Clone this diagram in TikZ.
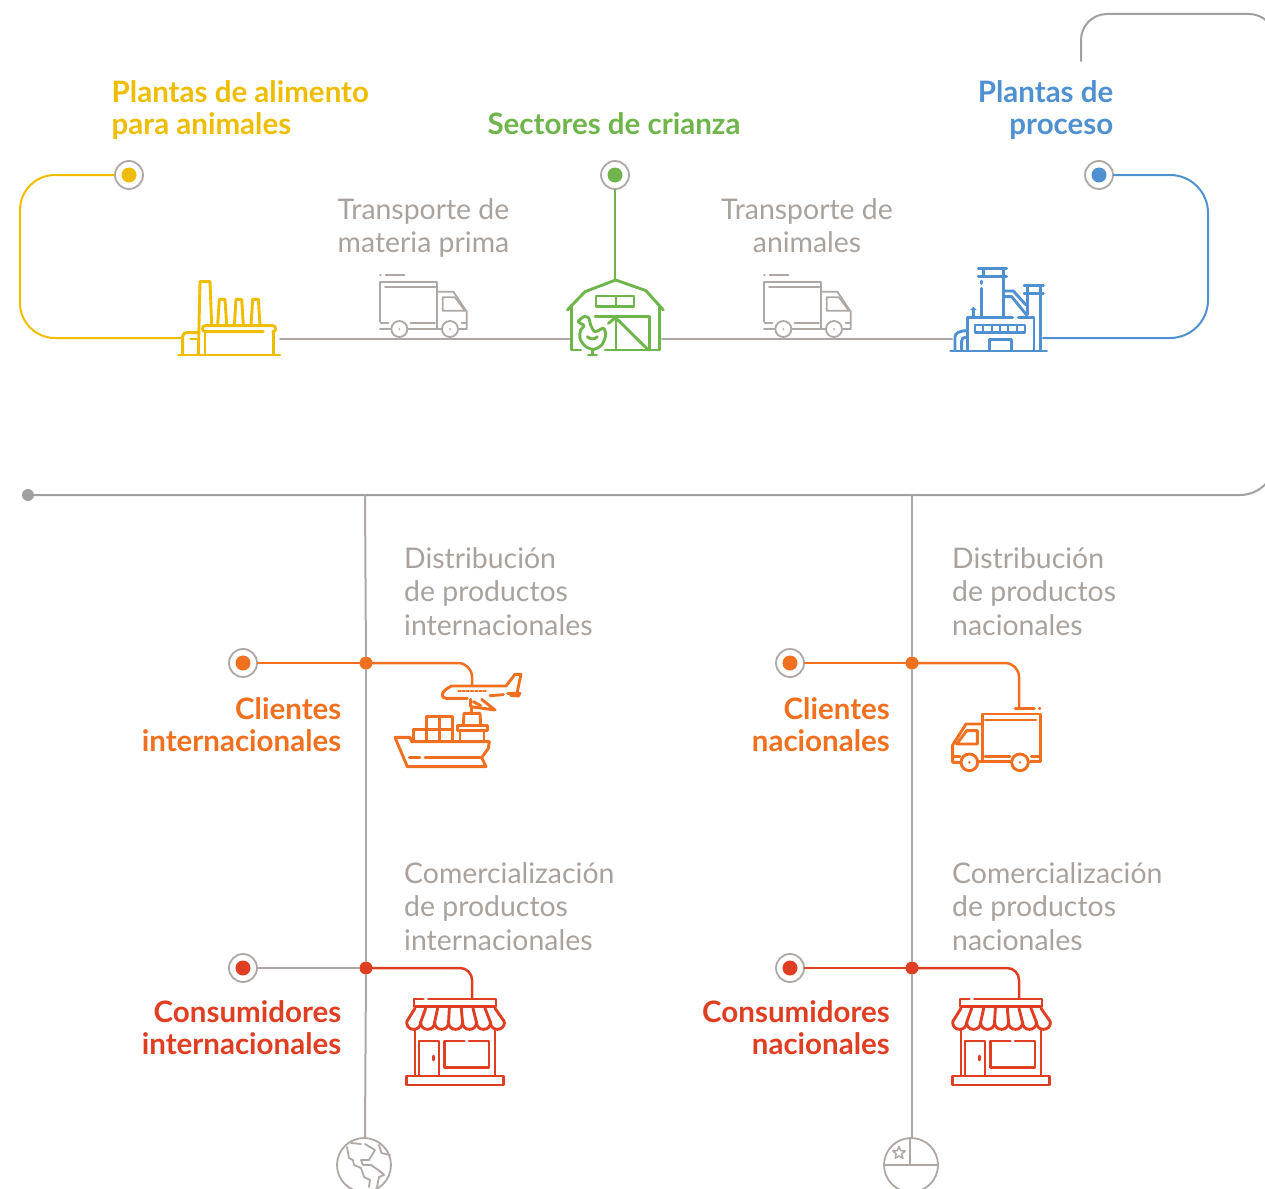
\documentclass[tikz,border=0pt]{standalone}
\usepackage{fontspec}
\setmainfont{Lato}
\usetikzlibrary{calc,positioning,shapes.geometric}
\definecolor{clrfeed}{HTML}{EFBD00}
\definecolor{clrfarm}{HTML}{6FB54B}
\definecolor{clrplant}{HTML}{4F90D1}
\definecolor{clrclient}{HTML}{F0701F}
\definecolor{clrshop}{HTML}{E03E22}
\definecolor{clrline}{HTML}{AFA7A3}
\definecolor{clrtext}{HTML}{A9A29C}
\definecolor{clrbus}{HTML}{A0A0A0}
\tikzset{
    ring/.style={circle, draw=clrline, fill=white, line width=1.8pt, minimum size=28pt, inner sep=0pt},
    junct/.style={circle, inner sep=0pt, minimum size=13pt},
    head/.style={inner sep=0pt, font=\fontsize{29.5}{32}\selectfont\bfseries},
    sub/.style={inner sep=0pt, text=clrtext, font=\fontsize{28.4}{33.5}\selectfont},
    link/.style={line width=2pt, line cap=round, line join=round},
    heavy link/.style={line width=2.5pt, line cap=round, line join=round},
    icon/.style={line width=2.9pt, line cap=round, line join=round},
    thin icon/.style={line width=1.8pt, line cap=round, line join=round}
}
\begin{document}
\begin{tikzpicture}[x=1pt, y=-1pt]

        \clip (0,0) rectangle (1265,1188);

        % rings
        \foreach \n/\x/\y/\c in {feed/129/175/clrfeed, farm/615/175/clrfarm, plant/1099/175/clrplant, cliint/243/663/clrclient, clinat/790/663/clrclient, conint/243/968/clrshop, connat/790/968/clrshop} {
            \node[ring] (\n) at (\x,\y) {};
            \fill[\c] (\n) circle (7.5pt);
        }

        % junctions on the two trunks
        \foreach \n/\x/\y/\c in {jcliint/366/663/clrclient, jclinat/912/663/clrclient, jconint/366/968/clrshop, jconnat/912/968/clrshop} {
            \node[junct, fill=\c] (\n) at (\x,\y) {};
        }

        \node[junct, fill=clrbus, minimum size=12pt] (busend) at (28,495) {};

        \coordinate (feedicon) at (180,338);
        \coordinate (feedout) at (280,339);
        \coordinate (feedcorner) at (20,338);
        \coordinate (farmin) at (570,339);
        \coordinate (farmout) at (662,339);
        \coordinate (farmtop) at (615,279);
        \coordinate (plantin) at (952,339);
        \coordinate (plantout) at (1043,338);
        \coordinate (plantcorner) at (1208,338);
        \coordinate (busstart) at (1081,61);
        \coordinate (busa) at (1081,14);
        \coordinate (busb) at (1275,14);
        \coordinate (busc) at (1275,495);
        \coordinate (trunkint) at (365,495);
        \coordinate (trunknat) at (912,495);
        \coordinate (globetop) at (365,1138);
        \coordinate (flagtop) at (912,1138);
        \coordinate (planein) at (472,686);
        \coordinate (vanin) at (1019,708);
        \coordinate (shopint) at (472,998);
        \coordinate (shopnat) at (1019,998);

        % connectors
        \draw[link, clrfeed, rounded corners=35pt] (feed.west) -| (feedcorner) -- (feedicon);
        \draw[link, clrfarm] (farm.south) -- (farmtop);
        \draw[link, clrplant, rounded corners=38pt] (plant.east) -| (plantcorner) -- (plantout);
        \draw[link, clrline] (feedout) -- (farmin);
        \draw[link, clrline] (farmout) -- (plantin);
        \draw[link, clrbus, rounded corners=26pt] (busstart) -- (busa) -- (busb) -- (1275,60);
        \draw[link, clrbus, rounded corners=35pt] (busend.east) -- (busc) -- (1275,440);
        \draw[link, clrline] (trunkint) -- (jcliint);
        \draw[link, clrline] (jcliint) -- (jconint);
        \draw[link, clrline] (jconint) -- (globetop);
        \draw[link, clrline] (trunknat) -- (jclinat);
        \draw[link, clrline] (jclinat) -- (jconnat);
        \draw[link, clrline] (jconnat) -- (flagtop);
        \draw[heavy link, clrclient] (cliint.east) -- (jcliint);
        \draw[heavy link, clrclient] (clinat.east) -- (jclinat);
        \draw[link, clrline] (conint.east) -- (jconint);
        \draw[heavy link, clrshop] (connat.east) -- (jconnat);
        \draw[heavy link, clrclient, rounded corners=14pt] (jcliint) -| (planein);
        \draw[heavy link, clrclient, rounded corners=14pt] (jclinat) -| (vanin);
        \draw[heavy link, clrshop, rounded corners=12pt] (jconint) -| (shopint);
        \draw[heavy link, clrshop, rounded corners=12pt] (jconnat) -| (shopnat);

        % labels
        \node[head, text=clrfeed, anchor=north west, align=left] (lfeed) at (111.5,80) {Plantas de alimento\\para animales};
        \node[head, text=clrfarm, anchor=north] (lfarm) at (614,112) {Sectores de crianza};
        \node[head, text=clrplant, anchor=north east, align=right] (lplant) at (1113.5,80) {Plantas de\\proceso};
        \node[sub, anchor=north west, align=left] (lraw) at (337.5,198) {Transporte de\\materia prima};
        \node[sub, anchor=north, align=center] (lanim) at (807,198) {Transporte de\\animales};
        \foreach \n/\x/\y/\t in {ldisint/404/547/internacionales, ldisnat/952/547/nacionales} {
            \node[sub, anchor=north west, align=left] (\n) at (\x,\y) {Distribución\\de productos\\\t};
        }
        \foreach \n/\x/\y/\t in {lcomint/404/862/internacionales, lcomnat/952/862/nacionales} {
            \node[sub, anchor=north west, align=left] (\n) at (\x,\y) {Comercialización\\de productos\\\t};
        }
        \node[head, text=clrclient, anchor=north east, align=right] (lcliint) at (341.5,697) {Clientes\\internacionales};
        \node[head, text=clrclient, anchor=north east, align=right] (lclinat) at (890,697) {Clientes\\nacionales};
        \node[head, text=clrshop, anchor=north east, align=right] (lconint) at (341.5,1000) {Consumidores\\internacionales};
        \node[head, text=clrshop, anchor=north east, align=right] (lconnat) at (890,1000) {Consumidores\\nacionales};

        % feed mill
        \begin{scope}[shift={(170,260)}, scale=1/3, icon, clrfeed]
            \draw (85,285) -- (90,65) -- (120,65) -- (125,195);
            \foreach \a in {0,50,100} {
                \draw[shift={(\a,0)}] (143,195) -- (148,118) -- (165,118) -- (170,195);
            }
            \draw[fill=white] (280,215) -- (106,215) .. controls (94,215) and (94,197) .. (106,197) -- (308,197) .. controls (320,197) and (320,215) .. (308,215);
            \draw (105,215) -- (105,285);
            \draw (310,215) -- (310,285);
            \draw (25,285) -- (330,285);
            \draw (38,285) -- (38,230) .. controls (38,222) and (42,218) .. (50,218) -- (85,218);
            \draw (62,237) -- (80,237);
            \draw[line width=2pt] (0,233) -- (32,233);
        \end{scope}

        % barn
        \begin{scope}[shift={(560,260)}, scale=1/3, icon, clrfarm]
            \draw (22,150) -- (75,95) -- (167,60) -- (258,92) -- (310,150);
            \draw (35,135) -- (35,270) -- (62,270);
            \draw (298,135) -- (298,270) -- (135,270);
            \draw (108,108) rectangle (222,140);
            \draw (168,108) -- (168,140);
            \draw (105,170) -- (268,170) -- (268,270);
            \draw (168,170) -- (168,270);
            \draw (172,178) -- (265,270);
            \draw (145,190) -- (168,172);
            \draw[fill=white] plot[smooth cycle, tension=0.5] coordinates {(55,185) (72,170) (86,174) (92,195) (105,215) (130,205) (137,225) (125,255) (100,268) (75,258) (60,235) (62,210) (72,197)};
            \draw (82,230) .. controls (92,240) and (105,238) .. (112,230);
            \draw (97,268) -- (97,285);
            \draw (85,285) -- (110,285);
        \end{scope}

        % processing plant
        \begin{scope}[shift={(940,255)}, scale=1/3, icon, clrplant]
            \draw (115,40) -- (200,40);
            \draw (115,65) -- (200,65);
            \draw (130,40) -- (130,65);
            \draw (190,40) -- (190,185);
            \draw (125,78) -- (125,85);
            \draw (125,100) -- (125,185);
            \draw (252,92) -- (310,92);
            \draw (252,115) -- (310,115);
            \draw (262,92) -- (262,178);
            \draw (302,92) -- (302,285);
            \draw (195,108) -- (220,108) -- (258,150);
            \draw (195,125) -- (215,125) -- (260,180);
            \draw (82,285) -- (82,188) -- (218,188);
            \draw (235,188) -- (282,188) -- (282,285);
            \draw (100,185) -- (100,165);
            \fill (90,165) -- (100,155) -- (110,165) -- cycle;
            \draw (105,210) rectangle (255,232);
            \foreach \a in {130,155,180,205,230} {
                \draw[line width=2.2pt] (\a,210) -- (\a,232);
            }
            \draw (148,285) -- (148,253) -- (215,253) -- (215,285);
            \draw (32,288) -- (320,288);
            \draw (45,285) -- (45,245) .. controls (45,235) and (60,227) .. (78,227);
            \draw (65,285) -- (65,258) .. controls (65,250) and (70,247) .. (78,247);
            \draw[line width=2pt] (310,248) -- (340,248);
        \end{scope}

        % vans on the upper line
        \foreach \a in {0,384} {
            \begin{scope}[shift={(170+\a,260)}, scale=1/3, thin icon, clrline]
                \draw (630,45) -- (632,45);
                \draw (647,45) -- (703,45);
                \draw (630,185) -- (630,65) -- (800,65) -- (800,207);
                \draw (645,80) -- (800,80);
                \draw (632,188) -- (655,188);
                \draw (722,188) -- (795,188);
                \draw (630,207) -- (662,207);
                \draw (714,207) -- (815,207);
                \draw (805,95) -- (850,95) -- (890,155) -- (890,207) -- (866,207);
                \draw (875,188) -- (888,188);
                \draw (818,112) -- (855,112) -- (885,152) -- (818,152) -- cycle;
                \foreach \w in {688,840} {
                    \draw[fill=white] (\w,207) circle (24pt);
                    \fill (\w,207) circle (3pt);
                }
            \end{scope}
        }

        % plane and ship
        \begin{scope}[shift={(380,660)}, scale=1/3, icon, clrclient]
            \draw (262,115) -- (198,115) .. controls (180,115) and (182,92) .. (215,78) -- (378,78) -- (405,43) -- (423,43) -- (412,95);
            \draw[dotted, line width=2.2pt] (235,93) -- (320,93);
            \draw (330,107) -- (370,104);
            \draw (383,100) -- (420,100) -- (415,108) -- (392,106);
            \draw (272,118) -- (272,140) -- (345,150) -- (305,118);
            \draw (280,125) -- (302,137);
            \draw (275,142) -- (275,160);
            \draw (250,195) -- (252,160) -- (300,160) -- (302,195);
            \draw (232,197) rectangle (322,212);
            \draw (240,212) -- (240,245);
            \draw (312,212) -- (312,245);
            \draw (140,208) -- (140,170) -- (218,170) -- (218,245);
            \draw (178,170) -- (178,245);
            \draw (140,208) -- (140,245);
            \draw (100,245) -- (100,208) -- (218,208);
            \draw (45,232) -- (90,232) -- (95,245) -- (328,245) -- (325,265) -- (305,293) -- (318,320) -- (82,320) -- cycle;
            \draw (88,293) -- (120,293);
            \draw (135,293) -- (305,293);
        \end{scope}

        % delivery truck
        \begin{scope}[shift={(940,680)}, scale=1/3, icon, clrclient]
            \draw (225,85) -- (283,85);
            \draw (298,85) -- (300,85);
            \draw (127,245) -- (127,102) -- (302,102) -- (302,245) -- (272,245);
            \draw (135,120) -- (288,120);
            \draw (135,230) -- (210,230);
            \draw (274,230) -- (298,230);
            \draw (112,245) -- (212,245);
            \draw (127,132) -- (78,132) -- (38,195) -- (38,247) -- (62,247);
            \draw (40,230) -- (60,230);
            \draw (80,152) -- (112,152) -- (112,192) -- (50,192) -- cycle;
            \foreach \w in {88,240} {
                \draw[fill=white] (\w,247) circle (25pt);
                \fill (\w,247) circle (4pt);
            }
        \end{scope}

        % shops
        \foreach \a in {0,546} {
            \begin{scope}[shift={(395+\a,990)}, scale=1/3, icon, clrshop]
                \draw (85,27) -- (57,27) -- (57,50) -- (303,50) -- (303,27) -- (100,27);
                \draw (60,55) -- (35,95);
                \draw (300,55) -- (328,95);
                \foreach \s in {0,...,6} {
                    \draw (35+\s*41.9,97) .. controls (35+\s*41.9,125) and (76.9+\s*41.9,125) .. (76.9+\s*41.9,97);
                }
                \foreach \s/\t in {1/92, 2/128, 3/163, 4/199, 5/234, 6/270} {
                    \draw (35+\s*41.9,97) -- (\t,55);
                }
                \draw (60,122) -- (60,255);
                \draw (300,122) -- (300,255);
                \draw (72,255) -- (72,153) -- (132,153) -- (132,255);
                \draw (115,198) -- (115,210);
                \draw (208,153) -- (148,153) -- (148,232) -- (282,232) -- (282,153) -- (222,153);
                \draw (35,258) rectangle (325,285);
            \end{scope}
        }

        % globe
        \begin{scope}[thin icon, clrline]
            \draw (364,1165) circle (27pt);
            \draw (347,1147) -- (349,1158) -- (353,1160) -- (354,1165) -- (361,1168) -- (364,1177) -- (370,1180) -- (369,1187);
            \draw (351,1143) -- (361,1144);
            \draw (365,1144) -- (375,1150) -- (369,1160) -- (361,1160) -- (363,1165) -- (371,1165) -- (381,1172) -- (384,1175) -- (379,1177) -- (377,1187);
            \draw (379,1145) -- (381.5,1153) -- (390,1155);
        \end{scope}

        % flag
        \begin{scope}[thin icon, clrline]
            \draw (911,1165) circle (27pt);
            \draw (884,1165) -- (938,1165);
            \draw (910,1138) -- (910,1165);
            \node[star, star points=5, star point ratio=2.2, draw=clrline, line width=1.5pt, minimum size=13pt, inner sep=0pt] (flagstar) at (899,1153) {};
        \end{scope}

\end{tikzpicture}
\end{document}
